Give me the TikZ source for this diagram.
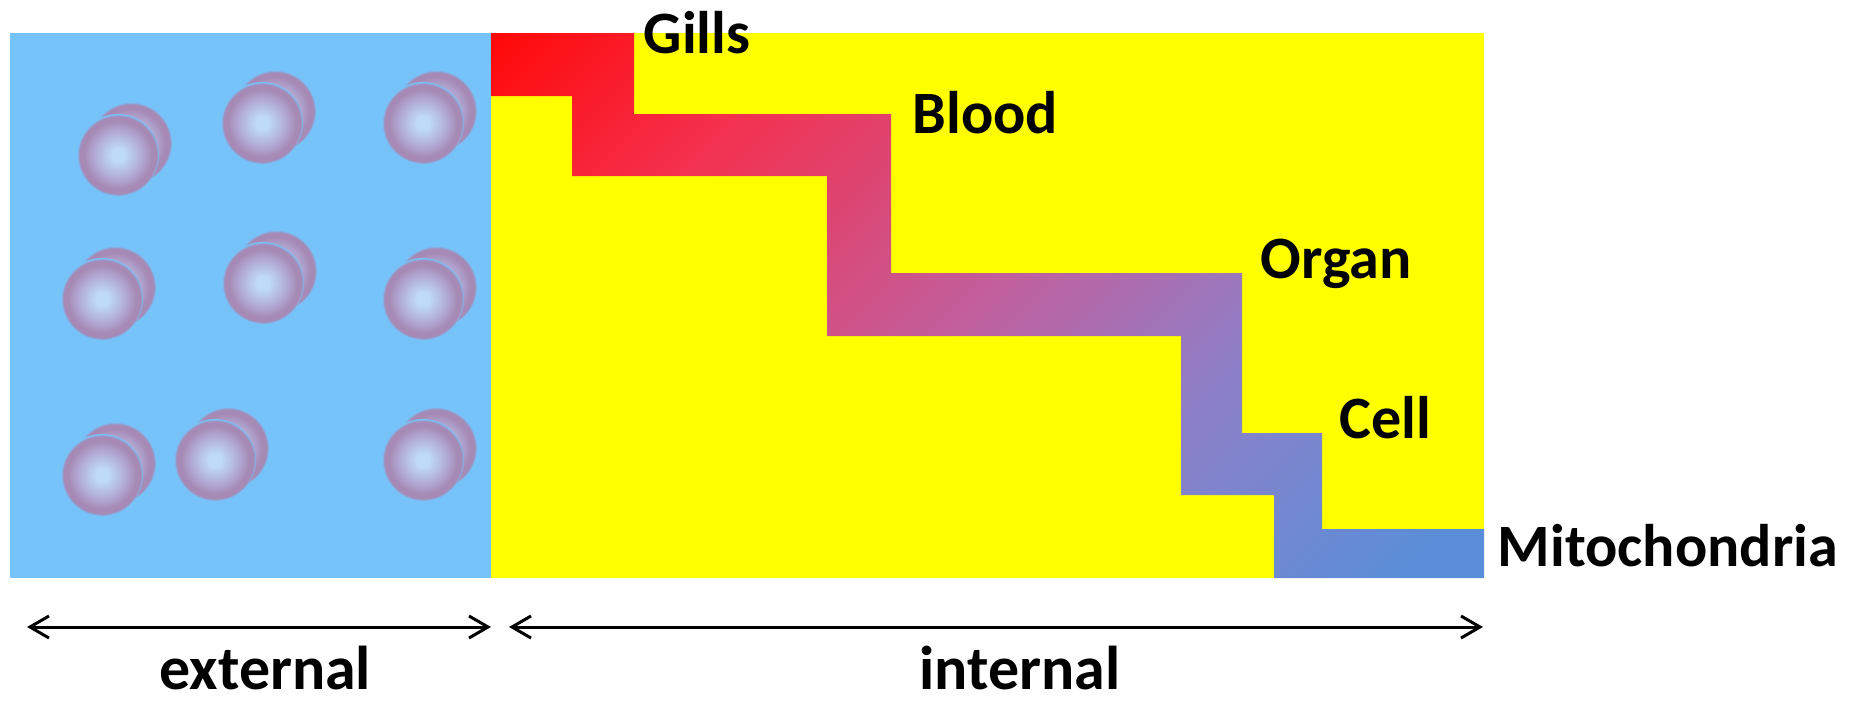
\documentclass[tikz,border=0pt]{standalone}
\usepackage{fontspec}
\setmainfont{Carlito}
\usetikzlibrary{arrows.meta}

% palette
\definecolor{seablue}{RGB}{118,195,250}
\definecolor{bodyyellow}{RGB}{255,255,0}
\definecolor{sphcore}{RGB}{190,218,248}
\definecolor{sphmid}{RGB}{178,172,214}
\definecolor{sphrim}{RGB}{166,137,181}
\definecolor{flowA}{RGB}{90,142,216}
\definecolor{flowB}{RGB}{140,128,200}
\definecolor{flowC}{RGB}{192,96,158}
\definecolor{flowD}{RGB}{244,48,78}
\definecolor{flowE}{RGB}{255,10,10}

% soft-edged sphere and the red-to-blue oxygen path
\pgfdeclareradialshading{sphere}{\pgfpoint{0bp}{0bp}}{color(0bp)=(sphcore); color(4bp)=(sphcore); color(14bp)=(sphmid); color(21bp)=(sphrim); color(23.5bp)=(sphrim); color(25bp)=(seablue); color(50bp)=(seablue)}
\pgfdeclareverticalshading{stairflow}{100bp}{color(0bp)=(flowA); color(18bp)=(flowA); color(35.5bp)=(flowB); color(50bp)=(flowC); color(70.6bp)=(flowD); color(85bp)=(flowE); color(100bp)=(flowE)}

\tikzset{
  lbl/.style={font=\fontsize{17.1pt}{20pt}\selectfont\bfseries, anchor=base west, inner sep=0pt},
  biglbl/.style={lbl, font=\fontsize{17.6pt}{21pt}\selectfont\bfseries},
  span/.style={line width=0.85pt,
    {Straight Barb[length=0.19cm,width=0.22cm]}-{Straight Barb[length=0.19cm,width=0.22cm]}},
  cellpair/.pic={
    \shade[shading=sphere] (13,-12) circle[radius=0.41cm];
    \shade[shading=sphere] (0,0) circle[radius=0.41cm];
  }
}

\begin{document}
\begin{tikzpicture}[x=0.01cm,y=-0.01cm]
\useasboundingbox (0,0) rectangle (1876,700);

% water outside and body inside
\fill[seablue] (10,33) rectangle (491,578);
\fill[bodyyellow] (491,33) rectangle (1484,578);

% oxygen molecules in the water
\pic (m1) at (118,155) {cellpair};
\pic (m2) at (262,123) {cellpair};
\pic (m3) at (423,123) {cellpair};
\pic (m4) at (102,299) {cellpair};
\pic (m5) at (263,283) {cellpair};
\pic (m6) at (423,299) {cellpair};
\pic (m7) at (102,475) {cellpair};
\pic (m8) at (215,460) {cellpair};
\pic (m9) at (423,460) {cellpair};

% staircase from gills down to mitochondria
\shade[shading=stairflow, shading angle=45]
  (491,33) -| (634,114) -| (891,273) -| (1242,433) -| (1322,529) -| (1484,578)
  -| (1274,495) -| (1181,336) -| (827,176) -| (572,96) -- (491,96) -- cycle;

% step labels
\node[lbl] (gills) at (643,53) {Gills};
\node[lbl] (blood) at (912,133) {Blood};
\node[lbl] (organ) at (1260,278) {Organ};
\node[lbl] (cell) at (1339,438) {Cell};
\node[lbl] (mito) at (1497,566) {Mitochondria};

% extent arrows
\coordinate (extL) at (27,627);
\coordinate (extR) at (491,627);
\coordinate (intL) at (509,627);
\coordinate (intR) at (1483,627);
\draw[span] (extL) -- (extR);
\draw[span] (intL) -- (intR);
\node[biglbl] (ext) at (159,689) {external};
\node[biglbl] (int) at (919,689) {internal};
\end{tikzpicture}
\end{document}
